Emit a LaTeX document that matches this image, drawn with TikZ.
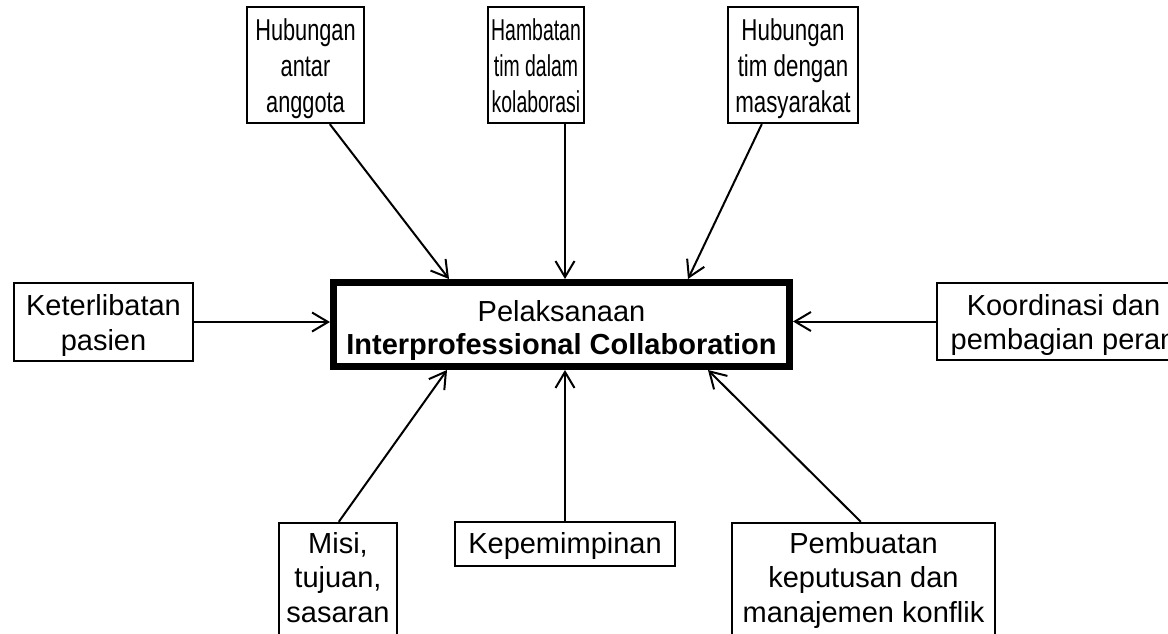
\documentclass[tikz,border=0pt]{standalone}
\usepackage{fontspec}
\setmainfont{Liberation Sans}
\usetikzlibrary{arrows.meta}
\newcommand\fsz{\fontsize{29}{34.5}\selectfont}
\newcommand\tb[2][8pt]{\begin{tabular}{@{}c@{}}\rule{0pt}{\dimexpr 24pt+#1\relax}#2\end{tabular}}
\newcommand\sq[2]{\scalebox{#1}[1.04]{\tb{#2}}}
\begin{document}
\begin{tikzpicture}[x=1pt,y=-1pt,
  box/.style={draw, line width=2.4pt, inner sep=0pt, align=center, font=\fsz, fill=white},
  mainbox/.style={draw, line width=7pt, inner sep=0pt, align=center, font=\fontsize{29}{33}\selectfont, fill=white,
    minimum width=456pt, minimum height=84pt},
  arr/.style={-{Straight Barb[length=16pt,width=19pt]}, line width=2pt}]
\useasboundingbox (0,0) rectangle (1168,633);
\fill[white] (0,0) rectangle (1168,633);
\clip (0,0) rectangle (1168,633);
% top boxes
\node[box, minimum width=117pt, minimum height=112pt] (t1) at (305.5,65) {\sq{0.75}{Hubungan\\antar\\anggota}};
\node[box, minimum width=96pt, minimum height=112pt] (t2) at (536,65) {\sq{0.67}{Hambatan\\tim dalam\\kolaborasi}};
\node[box, minimum width=130pt, minimum height=112pt] (t3) at (793,65) {\sq{0.77}{Hubungan\\tim dengan\\masyarakat}};
% central box
\node[mainbox] (c) at (561.5,324.5) {\tb[12pt]{Pelaksanaan\\\textbf{Interprofessional Collaboration}}};
% side boxes
\node[box, minimum width=179pt, minimum height=78pt] (L) at (103.5,322) {\tb{Keterlibatan\\pasien}};
\node[box, minimum width=253pt, minimum height=77pt] (R) at (1063.5,321.5) {\tb{Koordinasi dan\\pembagian peran}};
% bottom boxes
\node[box, minimum width=118pt, minimum height=112pt] (b1) at (338,579) {\tb[4pt]{Misi,\\tujuan,\\sasaran}};
\node[box, minimum width=220pt, minimum height=44pt] (b2) at (565,544) {\tb[6pt]{Kepemimpinan}};
\node[box, minimum width=263pt, minimum height=112pt] (b3) at (863.5,579) {\tb[4pt]{Pembuatan\\keputusan dan\\manajemen konflik}};
% arrows
\draw[arr] ([xshift=84pt]t1.south west) -- ([xshift=119pt]c.north west);
\draw[arr] (t2.south -| b2.north) -- (b2.north |- c.north);
\draw[arr] ([xshift=35pt]t3.south west) -- ([xshift=358pt]c.north west);
\draw[arr] (L.east) -- (L.east -| c.west);
\draw[arr] (R.west) -- (R.west -| c.east);
\draw[arr] ([xshift=61pt]b1.north west) -- ([xshift=117pt]c.south west);
\draw[arr] (b2.north) -- (b2.north |- c.south);
\draw[arr] ([xshift=130pt]b3.north west) -- ([xshift=378pt]c.south west);
\end{tikzpicture}
\end{document}
